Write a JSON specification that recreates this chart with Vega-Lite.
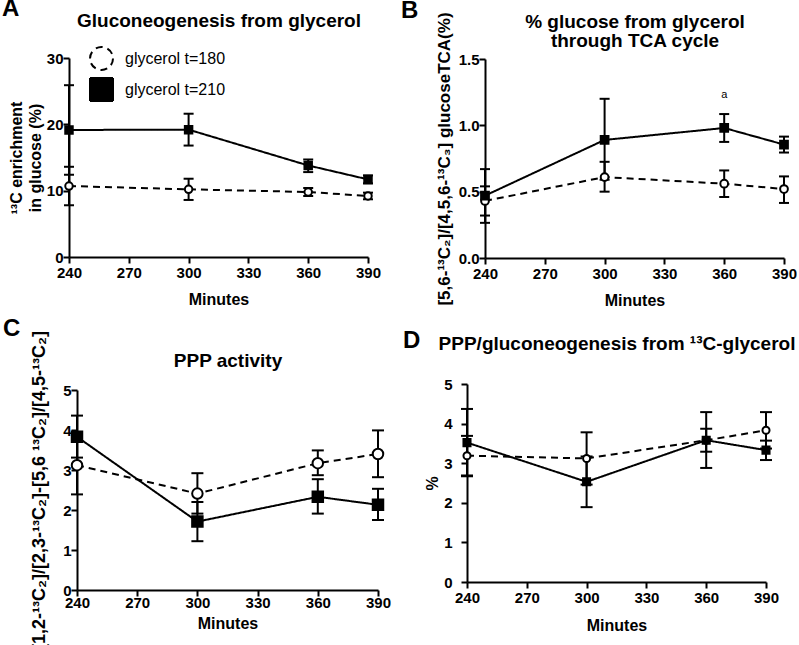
{
  "$schema": "https://vega.github.io/schema/vega-lite/v6.json",
  "autosize": {"type": "pad"},
  "padding": {"left": 2, "top": -3, "right": 0, "bottom": 0},
  "background": "white",
  "columns": 2,
  "bounds": "flush",
  "align": "each",
  "spacing": {"row": 126, "column": 107},
  "resolve": {"scale": {"shape": "independent", "fill": "independent", "strokeDash": "independent"}, "legend": {"shape": "independent", "fill": "independent", "strokeDash": "independent"}},
  "config": {
    "font": "Liberation Sans",
    "view": {"stroke": null},
    "axis": {"grid": false, "domainColor": "black", "domainWidth": 2, "tickColor": "black", "tickWidth": 2, "tickSize": 6, "labelFont": "Liberation Sans", "labelFontSize": 15, "labelFontWeight": "bold", "labelColor": "black", "labelPadding": 2, "labelOverlap": false, "labelFlush": false, "titleFont": "Liberation Sans", "titleFontSize": 16, "titleFontWeight": "bold", "titleColor": "black", "titleLineHeight": 19},
    "axisLeft": {"labelOverlap": false},
    "axisBottom": {"titlePadding": 11},
    "title": {"font": "Liberation Sans", "fontSize": 24, "fontWeight": "bold", "color": "black", "anchor": "start", "frame": "group"}
  },
  "datasets": {
    "a": [
      {"series": "glycerol t=180", "minute": 240, "mean": 10.7, "lo": 7.8, "hi": 13.6},
      {"series": "glycerol t=180", "minute": 300, "mean": 10.2, "lo": 8.6, "hi": 11.8},
      {"series": "glycerol t=180", "minute": 360, "mean": 9.8, "lo": 9.2, "hi": 10.4},
      {"series": "glycerol t=180", "minute": 390, "mean": 9.2, "lo": 8.7, "hi": 9.7},
      {"series": "glycerol t=210", "minute": 240, "mean": 19.15, "lo": 12.4, "hi": 25.9},
      {"series": "glycerol t=210", "minute": 300, "mean": 19.2, "lo": 16.8, "hi": 21.6},
      {"series": "glycerol t=210", "minute": 360, "mean": 13.8, "lo": 12.8, "hi": 14.7},
      {"series": "glycerol t=210", "minute": 390, "mean": 11.7, "lo": 11.1, "hi": 12.3}
    ],
    "b": [
      {"series": "glycerol t=180", "minute": 240, "mean": 0.43, "lo": 0.32, "hi": 0.54},
      {"series": "glycerol t=180", "minute": 300, "mean": 0.61, "lo": 0.5, "hi": 0.725},
      {"series": "glycerol t=180", "minute": 360, "mean": 0.56, "lo": 0.46, "hi": 0.66},
      {"series": "glycerol t=180", "minute": 390, "mean": 0.52, "lo": 0.415, "hi": 0.615},
      {"series": "glycerol t=210", "minute": 240, "mean": 0.47, "lo": 0.265, "hi": 0.67},
      {"series": "glycerol t=210", "minute": 300, "mean": 0.89, "lo": 0.59, "hi": 1.2},
      {"series": "glycerol t=210", "minute": 360, "mean": 0.98, "lo": 0.875, "hi": 1.085, "sig": "a"},
      {"series": "glycerol t=210", "minute": 390, "mean": 0.855, "lo": 0.795, "hi": 0.915}
    ],
    "c": [
      {"series": "glycerol t=180", "minute": 240, "mean": 3.12, "lo": 2.39, "hi": 3.85},
      {"series": "glycerol t=180", "minute": 300, "mean": 2.41, "lo": 1.91, "hi": 2.92},
      {"series": "glycerol t=180", "minute": 360, "mean": 3.17, "lo": 2.87, "hi": 3.49},
      {"series": "glycerol t=180", "minute": 390, "mean": 3.4, "lo": 2.82, "hi": 3.99},
      {"series": "glycerol t=210", "minute": 240, "mean": 3.83, "lo": 3.31, "hi": 4.36},
      {"series": "glycerol t=210", "minute": 300, "mean": 1.71, "lo": 1.22, "hi": 2.2},
      {"series": "glycerol t=210", "minute": 360, "mean": 2.33, "lo": 1.91, "hi": 2.77},
      {"series": "glycerol t=210", "minute": 390, "mean": 2.13, "lo": 1.75, "hi": 2.53}
    ],
    "d": [
      {"series": "glycerol t=180", "minute": 240, "mean": 3.19, "lo": 2.69, "hi": 3.69},
      {"series": "glycerol t=180", "minute": 300, "mean": 3.12, "lo": 2.46, "hi": 3.78},
      {"series": "glycerol t=180", "minute": 360, "mean": 3.58, "lo": 3.29, "hi": 3.87},
      {"series": "glycerol t=180", "minute": 390, "mean": 3.83, "lo": 3.37, "hi": 4.29},
      {"series": "glycerol t=210", "minute": 240, "mean": 3.52, "lo": 2.67, "hi": 4.37},
      {"series": "glycerol t=210", "minute": 300, "mean": 2.53, "lo": 1.89, "hi": 3.17},
      {"series": "glycerol t=210", "minute": 360, "mean": 3.58, "lo": 2.88, "hi": 4.29},
      {"series": "glycerol t=210", "minute": 390, "mean": 3.33, "lo": 3.08, "hi": 3.57}
    ]
  },
  "concat": [
    {
      "data": {"name": "a"},
      "width": 299,
      "height": 199,
      "title": {"text": "A", "dx": -67, "offset": -10},
      "resolve": {"axis": {"x": "independent"}},
      "layer": [
        {"mark": {"type": "rule", "color": "black", "strokeWidth": 2},
         "encoding": {
           "x": {"field": "minute", "type": "quantitative", "scale": {"domain": [240, 390], "nice": false, "zero": false}, "axis": {"values": [240, 270, 300, 330, 360, 390], "title": "Minutes"}},
           "y": {"field": "lo", "type": "quantitative", "scale": {"domain": [0, 30], "nice": false}, "axis": {"values": [0, 10, 20, 30], "labelOverlap": false, "labelPadding": 0, "title": ["¹³C enrichment", "in glucose (%)"], "titlePadding": 3}},
           "y2": {"field": "hi"}}},
        {"mark": {"type": "tick", "orient": "horizontal", "size": 10, "thickness": 2, "color": "black", "opacity": 1},
         "encoding": {"x": {"field": "minute", "type": "quantitative", "axis": null}, "y": {"field": "lo", "type": "quantitative"}}},
        {"mark": {"type": "tick", "orient": "horizontal", "size": 10, "thickness": 2, "color": "black", "opacity": 1},
         "encoding": {"x": {"field": "minute", "type": "quantitative", "axis": null}, "y": {"field": "hi", "type": "quantitative"}}},
        {"mark": {"type": "line", "color": "black", "strokeWidth": 2},
         "encoding": {"x": {"field": "minute", "type": "quantitative", "axis": {"orient": "top", "title": "Gluconeogenesis from glycerol", "domain": false, "ticks": false, "labels": false, "titleFontSize": 19, "titlePadding": 28}},
           "y": {"field": "mean", "type": "quantitative"},
           "strokeDash": {"field": "series", "type": "nominal", "scale": {"domain": ["glycerol t=180", "glycerol t=210"], "range": [[7, 5], [1, 0]]}}}},
        {"mark": {"type": "point", "filled": true, "stroke": "black", "strokeWidth": 2, "opacity": 1, "size": 56},
         "encoding": {"x": {"field": "minute", "type": "quantitative", "axis": null}, "y": {"field": "mean", "type": "quantitative"},
           "fill": {"field": "series", "type": "nominal", "scale": {"domain": ["glycerol t=180", "glycerol t=210"], "range": ["white", "black"]}},
           "shape": {"field": "series", "type": "nominal", "scale": {"domain": ["glycerol t=180", "glycerol t=210"], "range": ["circle", "square"]},
             "legend": {"title": null, "orient": "none", "legendX": 20, "legendY": -12, "padding": 0, "symbolSize": 529, "symbolStrokeWidth": 2, "symbolStrokeColor": "black", "labelFont": "Liberation Sans", "labelFontSize": 16, "labelColor": "black", "labelOffset": 11, "rowPadding": 0,
               "encode": {"symbols": {
                 "shape": {"signal": "datum.value === 'glycerol t=180' ? 'M-1,0H-0.5M0.5,0H0.8M0.35,0A0.35,0.35,0,1,1,-0.35,0A0.35,0.35,0,1,1,0.35,0M-0.35,0H0.35' : 'M-1,0H1M-0.38,-0.38H0.38V0.38H-0.38Z'"},
                 "fill": {"signal": "datum.value === 'glycerol t=180' ? 'white' : 'black'"},
                 "stroke": {"value": "black"},
                 "strokeDash": {"value": [1, 0]},
                 "strokeWidth": {"value": 2},
                 "opacity": {"value": 1}}}}}}}
      ]
    },
    {
      "data": {"name": "b"},
      "width": 299,
      "height": 200,
      "title": {"text": "B", "dx": -84, "offset": -11},
      "resolve": {"axis": {"x": "independent"}},
      "layer": [
        {"mark": {"type": "rule", "color": "black", "strokeWidth": 2},
         "encoding": {
           "x": {"field": "minute", "type": "quantitative", "scale": {"domain": [240, 390], "nice": false, "zero": false}, "axis": {"values": [240, 270, 300, 330, 360, 390], "title": "Minutes"}},
           "y": {"field": "lo", "type": "quantitative", "scale": {"domain": [0, 1.5], "nice": false, "range": [200, 1]}, "axis": {"values": [0, 0.5, 1, 1.5], "format": ".1f", "labelOverlap": false, "labelPadding": 0, "title": "[5,6-¹³C₂]/[4,5,6-¹³C₃] glucoseTCA(%)", "titlePadding": 5, "titleFontSize": 17}},
           "y2": {"field": "hi"}}},
        {"mark": {"type": "tick", "orient": "horizontal", "size": 10, "thickness": 2, "color": "black", "opacity": 1},
         "encoding": {"x": {"field": "minute", "type": "quantitative", "axis": null}, "y": {"field": "lo", "type": "quantitative"}}},
        {"mark": {"type": "tick", "orient": "horizontal", "size": 10, "thickness": 2, "color": "black", "opacity": 1},
         "encoding": {"x": {"field": "minute", "type": "quantitative", "axis": null}, "y": {"field": "hi", "type": "quantitative"}}},
        {"mark": {"type": "line", "color": "black", "strokeWidth": 2},
         "encoding": {"x": {"field": "minute", "type": "quantitative", "axis": {"orient": "top", "title": ["% glucose from glycerol", "through TCA cycle"], "domain": false, "ticks": false, "labels": false, "titleFontSize": 19, "titlePadding": 8}},
           "y": {"field": "mean", "type": "quantitative"},
           "strokeDash": {"field": "series", "type": "nominal", "scale": {"domain": ["glycerol t=180", "glycerol t=210"], "range": [[7, 5], [1, 0]]}, "legend": null}}},
        {"mark": {"type": "point", "filled": true, "stroke": "black", "strokeWidth": 2, "opacity": 1, "size": 60},
         "encoding": {"x": {"field": "minute", "type": "quantitative", "axis": null}, "y": {"field": "mean", "type": "quantitative"},
           "fill": {"field": "series", "type": "nominal", "scale": {"domain": ["glycerol t=180", "glycerol t=210"], "range": ["white", "black"]}, "legend": null},
           "shape": {"field": "series", "type": "nominal", "scale": {"domain": ["glycerol t=180", "glycerol t=210"], "range": ["circle", "square"]}, "legend": null}}},
        {"transform": [{"filter": "datum.sig"}],
         "mark": {"type": "text", "dy": -19, "fontSize": 11, "font": "Liberation Sans", "color": "black"},
         "encoding": {"x": {"field": "minute", "type": "quantitative", "axis": null}, "y": {"field": "hi", "type": "quantitative"}, "text": {"field": "sig"}}}
      ]
    },
    {
      "data": {"name": "c"},
      "width": 309,
      "height": 206,
      "title": {"text": "C", "dx": -66, "offset": -10},
      "resolve": {"axis": {"x": "independent"}},
      "layer": [
        {"mark": {"type": "rule", "color": "black", "strokeWidth": 2},
         "encoding": {
           "x": {"field": "minute", "type": "quantitative", "scale": {"domain": [240, 390], "nice": false, "zero": false, "range": [8, 309]}, "axis": {"values": [240, 270, 300, 330, 360, 390], "title": "Minutes", "labelPadding": -1, "titlePadding": 5}},
           "y": {"field": "lo", "type": "quantitative", "scale": {"domain": [0, 5], "nice": false, "range": [206, 6]}, "axis": {"values": [0, 1, 2, 3, 4, 5], "labelOverlap": false, "labelPadding": 0, "offset": -8, "title": "[1,2-¹³C₂]/[2,3-¹³C₂]-[5,6 ¹³C₂]/[4,5-¹³C₂]", "titlePadding": 14, "titleFontSize": 18}},
           "y2": {"field": "hi"}}},
        {"mark": {"type": "tick", "orient": "horizontal", "size": 12, "thickness": 2, "color": "black", "opacity": 1},
         "encoding": {"x": {"field": "minute", "type": "quantitative", "axis": null}, "y": {"field": "lo", "type": "quantitative"}}},
        {"mark": {"type": "tick", "orient": "horizontal", "size": 12, "thickness": 2, "color": "black", "opacity": 1},
         "encoding": {"x": {"field": "minute", "type": "quantitative", "axis": null}, "y": {"field": "hi", "type": "quantitative"}}},
        {"mark": {"type": "line", "color": "black", "strokeWidth": 2},
         "encoding": {"x": {"field": "minute", "type": "quantitative", "axis": {"orient": "top", "title": "PPP activity", "domain": false, "ticks": false, "labels": false, "titleFontSize": 19, "titlePadding": 14}},
           "y": {"field": "mean", "type": "quantitative"},
           "strokeDash": {"field": "series", "type": "nominal", "scale": {"domain": ["glycerol t=180", "glycerol t=210"], "range": [[7, 5], [1, 0]]}, "legend": null}}},
        {"mark": {"type": "point", "filled": true, "stroke": "black", "strokeWidth": 2, "opacity": 1, "size": 110},
         "encoding": {"x": {"field": "minute", "type": "quantitative", "axis": null}, "y": {"field": "mean", "type": "quantitative"},
           "fill": {"field": "series", "type": "nominal", "scale": {"domain": ["glycerol t=180", "glycerol t=210"], "range": ["white", "black"]}, "legend": null},
           "shape": {"field": "series", "type": "nominal", "scale": {"domain": ["glycerol t=180", "glycerol t=210"], "range": ["circle", "square"]}, "legend": null}}}
      ]
    },
    {
      "data": {"name": "d"},
      "width": 299,
      "height": 198,
      "title": {"text": "D", "dx": -82, "offset": -19},
      "resolve": {"axis": {"x": "independent"}},
      "layer": [
        {"mark": {"type": "rule", "color": "black", "strokeWidth": 2},
         "encoding": {
           "x": {"field": "minute", "type": "quantitative", "scale": {"domain": [240, 390], "nice": false, "zero": false, "range": [-18, 281]}, "axis": {"values": [240, 270, 300, 330, 360, 390], "title": "Minutes", "titlePadding": 12}},
           "y": {"field": "lo", "type": "quantitative", "scale": {"domain": [0, 5], "nice": false, "range": [198, 0]}, "axis": {"values": [0, 1, 2, 3, 4, 5], "tickCount": 6, "labelOverlap": false, "labelSeparation": 0, "labelPadding": 9, "offset": 18, "title": "%", "titlePadding": 3}},
           "y2": {"field": "hi"}}},
        {"mark": {"type": "tick", "orient": "horizontal", "size": 12, "thickness": 2, "color": "black", "opacity": 1},
         "encoding": {"x": {"field": "minute", "type": "quantitative", "axis": null}, "y": {"field": "lo", "type": "quantitative"}}},
        {"mark": {"type": "tick", "orient": "horizontal", "size": 12, "thickness": 2, "color": "black", "opacity": 1},
         "encoding": {"x": {"field": "minute", "type": "quantitative", "axis": null}, "y": {"field": "hi", "type": "quantitative"}}},
        {"mark": {"type": "line", "color": "black", "strokeWidth": 2},
         "encoding": {"x": {"field": "minute", "type": "quantitative", "axis": {"orient": "top", "title": "PPP/gluconeogenesis from ¹³C-glycerol", "domain": false, "ticks": false, "labels": false, "titleFontSize": 19, "titlePadding": 31}},
           "y": {"field": "mean", "type": "quantitative"},
           "strokeDash": {"field": "series", "type": "nominal", "scale": {"domain": ["glycerol t=180", "glycerol t=210"], "range": [[7, 5], [1, 0]]}, "legend": null}}},
        {"mark": {"type": "point", "filled": true, "stroke": "black", "strokeWidth": 2, "opacity": 1, "size": 50},
         "encoding": {"x": {"field": "minute", "type": "quantitative", "axis": null}, "y": {"field": "mean", "type": "quantitative"},
           "fill": {"field": "series", "type": "nominal", "scale": {"domain": ["glycerol t=180", "glycerol t=210"], "range": ["white", "black"]}, "legend": null},
           "shape": {"field": "series", "type": "nominal", "scale": {"domain": ["glycerol t=180", "glycerol t=210"], "range": ["circle", "square"]}, "legend": null}}}
      ]
    }
  ]
}
